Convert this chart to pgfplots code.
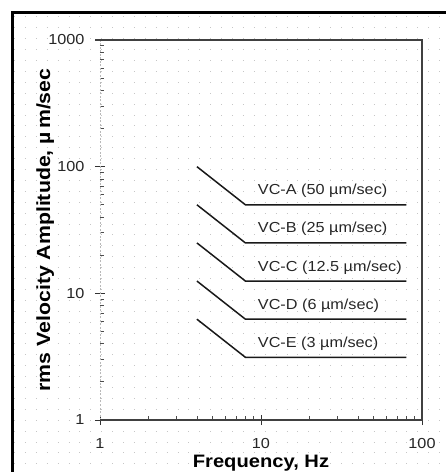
\documentclass[border=0pt]{standalone}
\usepackage{fontspec}
\setmainfont{Liberation Sans}[FakeStretch=1.12]
\usepackage{pgfplots}
\pgfplotsset{compat=1.18}

\begin{document}
\begin{tikzpicture}
% page = 446 x 472 px, 1 px = 1 pt
\useasboundingbox (0pt,0pt) rectangle (446pt,472pt);
% dotted background
\foreach \r in {0,...,41}{
  \draw[gray!45, line width=1pt, dash pattern=on 1pt off 9.9pt]
    (14pt,{(455-10.9*\r)*1pt}) -- (446pt,{(455-10.9*\r)*1pt});
}
% outer frame
\draw[black, line width=3pt] (12pt,-10pt) -- (12pt,459pt) -- (460pt,459pt);

\begin{axis}[
    at={(100pt,52pt)}, anchor=south west,
    scale only axis,
    width=322pt, height=380pt,
    xmode=log, ymode=log,
    xmin=1, xmax=100,
    ymin=1, ymax=1000,
    xtick={1,10,100}, xticklabels={1,10,100},
    ytick={1,10,100,1000}, yticklabels={1,10,100,1000},
    minor xtick={2,3,4,5,6,7,8,9,20,30,40,50,60,70,80,90},
    minor ytick={2,3,4,5,6,7,8,9,20,30,40,50,60,70,80,90,200,300,400,500,600,700,800,900},
    tick pos=left,
    tick align=inside,
    major tick length=10pt,
    minor tick length=4pt,
    major x tick style={yshift=-5pt, black!80, line width=0.9pt},
    major y tick style={xshift=-5pt, black!80, line width=0.9pt},
    minor tick style={black!70, line width=0.8pt},
    axis line style={draw=none},
    ticklabel style={font=\fontsize{14.5}{16}\selectfont, text=black!85},
    xticklabel style={yshift=-15pt},
    yticklabel style={xshift=-12pt},
    xlabel={Frequency, Hz},
    ylabel={rms Velocity Amplitude, µ\,m/sec},
    xlabel style={at={(axis description cs:0.5,-0.1263)}, anchor=base,
        font=\bfseries\fontsize{18}{20}\selectfont},
    ylabel style={at={(axis description cs:-0.155,0.5)}, anchor=base,
        font=\bfseries\fontsize{19}{21}\selectfont},
    clip=false,
]
\draw[gray!55, line width=0.8pt, dash pattern=on 2pt off 1.5pt]
    (rel axis cs:0,0) -- (rel axis cs:0,1);
\draw[black!75, line width=1.3pt]
    (rel axis cs:-0.015,1) -- (rel axis cs:1,1) -- (rel axis cs:1,0) -- (rel axis cs:0,0);

\addplot[black!90, line width=1.5pt] coordinates {(4,100) (8,50) (80,50)};
\addplot[black!90, line width=1.5pt] coordinates {(4,50) (8,25) (80,25)};
\addplot[black!90, line width=1.5pt] coordinates {(4,25) (8,12.5) (80,12.5)};
\addplot[black!90, line width=1.5pt] coordinates {(4,12.5) (8,6.25) (80,6.25)};
\addplot[black!90, line width=1.5pt] coordinates {(4,6.25) (8,3.125) (80,3.125)};

\begin{scope}[every node/.style={anchor=base west, yshift=10pt,
    font=\fontsize{14.5}{16}\selectfont, text=black!85}]
\node at (axis cs:9.1,50) {VC-A (50 µm/sec)};
\node at (axis cs:9.1,25) {VC-B (25 µm/sec)};
\node at (axis cs:9.1,12.5) {VC-C (12.5 µm/sec)};
\node at (axis cs:9.1,6.25) {VC-D (6 µm/sec)};
\node at (axis cs:9.1,3.125) {VC-E (3 µm/sec)};
\end{scope}
\end{axis}
\end{tikzpicture}
\end{document}
